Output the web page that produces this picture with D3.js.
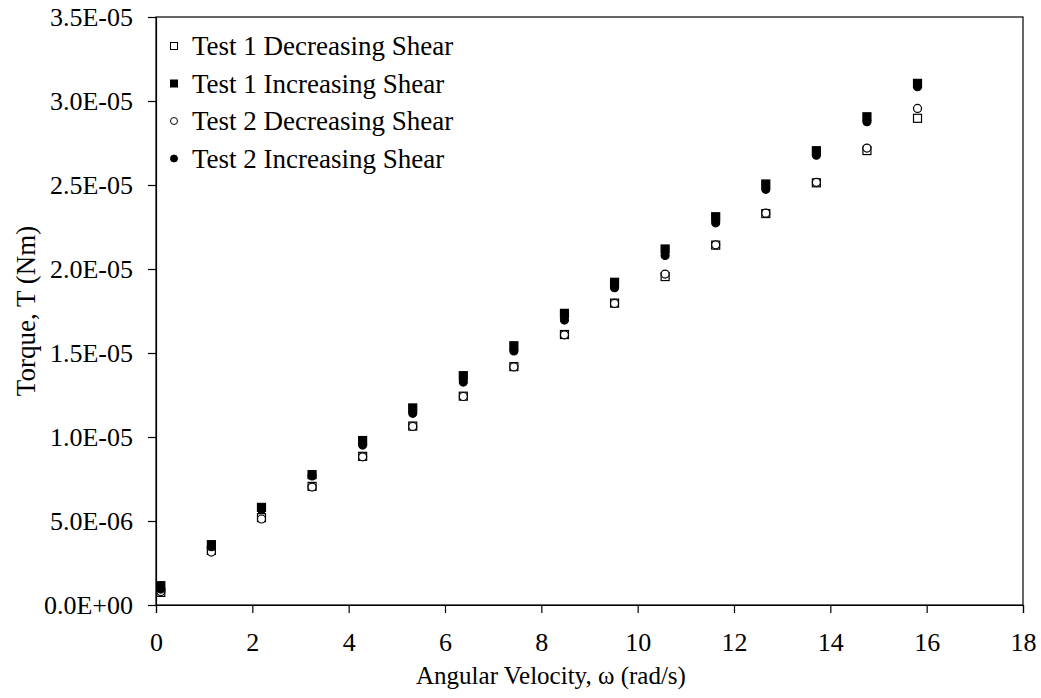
<!DOCTYPE html>
<html>
<head>
<meta charset="utf-8">
<script src="https://cdn.jsdelivr.net/npm/d3@7"></script>
<style>
  body { margin: 0; background: #fff; }
  text { font-family: "Liberation Serif", "Times New Roman", serif; fill: #000; }
</style>
</head>
<body>
<svg id="chart"></svg>
<script>
// angular velocity (rad/s)
const omega = [0.1, 1.15, 2.19, 3.24, 4.29, 5.33, 6.38, 7.43, 8.48, 9.52, 10.57, 11.62, 12.66, 13.71, 14.76, 15.81];

// torque (Nm)
const test1Dec = [0.75e-6, 3.25e-6, 5.2e-6, 7.06e-6, 8.85e-6, 1.065e-5, 1.243e-5, 1.419e-5, 1.61e-5, 1.797e-5, 1.955e-5, 2.142e-5, 2.33e-5, 2.513e-5, 2.705e-5, 2.897e-5];
const test1Inc = [1.15e-6, 3.59e-6, 5.81e-6, 7.76e-6, 9.79e-6, 1.173e-5, 1.365e-5, 1.543e-5, 1.736e-5, 1.921e-5, 2.119e-5, 2.311e-5, 2.506e-5, 2.704e-5, 2.906e-5, 3.105e-5];
const test2Dec = [0.8e-6, 3.15e-6, 5.12e-6, 7.02e-6, 8.82e-6, 1.063e-5, 1.241e-5, 1.417e-5, 1.608e-5, 1.795e-5, 1.97e-5, 2.144e-5, 2.332e-5, 2.516e-5, 2.72e-5, 2.956e-5];
const test2Inc = [0.95e-6, 3.47e-6, 5.69e-6, 7.68e-6, 9.52e-6, 1.141e-5, 1.327e-5, 1.512e-5, 1.696e-5, 1.889e-5, 2.081e-5, 2.275e-5, 2.474e-5, 2.677e-5, 2.877e-5, 3.085e-5];

const xTicks = [0, 2, 4, 6, 8, 10, 12, 14, 16, 18];
const yTicks = [0, 5e-6, 1e-5, 1.5e-5, 2e-5, 2.5e-5, 3e-5, 3.5e-5];

const seriesNames = ["Test 1 Decreasing Shear", "Test 1 Increasing Shear", "Test 2 Decreasing Shear", "Test 2 Increasing Shear"];

const width = 1041, height = 698;
const margin = {top: 17, right: 18, bottom: 93, left: 156};

const svg = d3.select("#chart")
    .attr("width", width)
    .attr("height", height);

const x = d3.scaleLinear()
    .domain([0, 18])
    .range([margin.left, width - margin.right]);

const y = d3.scaleLinear()
    .domain([0, 3.5e-5])
    .range([height - margin.bottom, margin.top]);

// excel-like scientific format, e.g. 3.5E-05
const sci = v => {
    const [m, e] = v.toExponential(1).split("e");
    const n = +e;
    return m + "E" + (n < 0 ? "-" : "+") + String(Math.abs(n)).padStart(2, "0");
};

// plot frame
svg.append("rect")
    .attr("x", margin.left)
    .attr("y", margin.top)
    .attr("width", width - margin.right - margin.left)
    .attr("height", height - margin.bottom - margin.top)
    .attr("fill", "none")
    .attr("stroke", "#000")
    .attr("stroke-width", 1.2);

const xAxis = svg.append("g")
    .attr("transform", `translate(0,${height - margin.bottom})`)
    .call(d3.axisBottom(x).tickValues(xTicks).tickSize(8).tickPadding(20).tickFormat(d3.format("d")));

const yAxis = svg.append("g")
    .attr("transform", `translate(${margin.left},0)`)
    .call(d3.axisLeft(y).tickValues(yTicks).tickSize(8).tickPadding(15).tickFormat(sci));

[xAxis, yAxis].forEach(g => {
    g.select(".domain").attr("stroke", "#000").attr("stroke-width", 1.2);
    g.selectAll(".tick line").attr("stroke", "#000").attr("stroke-width", 1.2);
    g.selectAll(".tick text")
        .style("font-family", "'Liberation Serif', 'Times New Roman', serif")
        .style("font-size", "26px")
        .attr("fill", "#000");
});
yAxis.selectAll(".tick text").attr("dy", "0.34em");

// axis titles
svg.append("text")
    .attr("x", 551)
    .attr("y", 684)
    .attr("text-anchor", "middle")
    .style("font-size", "25px")
    .text("Angular Velocity, ω (rad/s)");

svg.append("text")
    .attr("transform", `translate(35,${(margin.top + height - margin.bottom) / 2}) rotate(-90)`)
    .attr("text-anchor", "middle")
    .style("font-size", "27px")
    .text("Torque, T (Nm)");

// markers
const ms = 8;
const plot = svg.append("g");

const drawSquares = (vals, fill) => {
    plot.append("g").selectAll("rect")
        .data(omega.map((w, i) => [w, vals[i]]))
        .join("rect")
        .attr("x", d => x(d[0]) - ms / 2)
        .attr("y", d => y(d[1]) - ms / 2)
        .attr("width", ms)
        .attr("height", ms)
        .attr("fill", fill)
        .attr("stroke", "#000")
        .attr("stroke-width", 1.2);
};

const drawCircles = (vals, fill) => {
    plot.append("g").selectAll("circle")
        .data(omega.map((w, i) => [w, vals[i]]))
        .join("circle")
        .attr("cx", d => x(d[0]))
        .attr("cy", d => y(d[1]))
        .attr("r", ms / 2)
        .attr("fill", fill)
        .attr("stroke", "#000")
        .attr("stroke-width", 1.2);
};

drawSquares(test1Dec, "#fff");
drawSquares(test1Inc, "#000");
drawCircles(test2Dec, "#fff");
drawCircles(test2Inc, "#000");

// legend
const legend = svg.append("g");
const legendX = 174, legendY = 46, legendStep = 37.5, lm = 7;

seriesNames.forEach((name, i) => {
    const cy = legendY + i * legendStep;
    const fill = i % 2 === 0 ? "#fff" : "#000";
    if (i < 2) {
        legend.append("rect")
            .attr("x", legendX - lm / 2)
            .attr("y", cy - lm / 2)
            .attr("width", lm)
            .attr("height", lm)
            .attr("fill", fill)
            .attr("stroke", "#000")
            .attr("stroke-width", 1);
    } else {
        legend.append("circle")
            .attr("cx", legendX)
            .attr("cy", cy)
            .attr("r", lm / 2)
            .attr("fill", fill)
            .attr("stroke", "#000")
            .attr("stroke-width", 1);
    }
    legend.append("text")
        .attr("x", 192)
        .attr("y", cy + 9)
        .style("font-size", "27px")
        .text(name);
});
</script>
</body>
</html>
